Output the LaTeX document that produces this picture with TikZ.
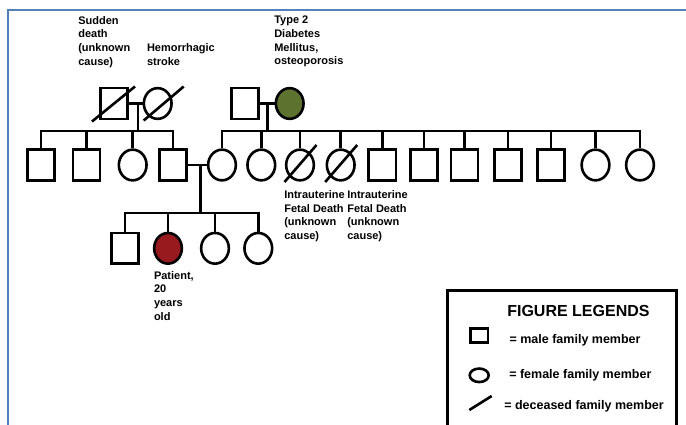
\documentclass[tikz,border=0pt]{standalone}
\usepackage{fontspec}
\setmainfont{Liberation Sans}
\usepackage{tikz}
\usetikzlibrary{calc,shapes.geometric}
\definecolor{dmgreen}{RGB}{94,114,48}
\definecolor{patred}{RGB}{152,26,30}
\definecolor{pageblue}{RGB}{84,128,190}

\begin{document}
\begin{tikzpicture}[x=1pt,y=-1pt,line width=2.6pt,
    male/.style={draw,rectangle,minimum width=27.2pt,minimum height=30.7pt,inner sep=0pt},
    female/.style={draw,ellipse,minimum width=27.7pt,minimum height=30.7pt,inner sep=0pt},
    affected/.style={female,fill=dmgreen},
    patient/.style={female,fill=patred},
    note/.style={anchor=north west,inner sep=0pt,align=left,font=\fontsize{11}{13.6}\selectfont\bfseries},
    legtext/.style={anchor=west,inner sep=0pt,font=\fontsize{12.5}{15}\selectfont\bfseries}]
  \useasboundingbox (0,0) rectangle (686,425);
  \draw[pageblue,line width=1.2pt] (8,425) |- (686,10);
  \coordinate (sibL) at (0,131);
  \coordinate (sibIII) at (0,213);
  % generation I
  \node[male] (gA) at (114,103.5) {};
  \node[female] (gB) at (157.7,103.5) {};
  \node[male] (gC) at (245,103.5) {};
  \node[affected] (gD) at (289.7,103.5) {};
  \draw ([shift={(-22,18)}]gA.center) -- ([shift={(21,-17)}]gA.center);
  \draw ([shift={(-14,17)}]gB.center) -- ([shift={(26,-17)}]gB.center);
  \draw (gA.east) -- (gB.west);
  \draw (gC.east) -- (gD.west);
  \coordinate (mA) at ($(gA.east)!0.68!(gB.west)$);
  \coordinate (mB) at ($(gC.east)!0.5!(gD.west)$);
  \draw (mA) -- (mA |- sibL);
  \draw (mB) -- (mB |- sibL);
  % generation II
  \foreach \n/\xx/\kind in {1/41/male,2/86.5/male,3/132.7/female,4/173/male,5/222/female,6/261.3/female,7/300/female,8/340.7/female,
      9/382.3/male,10/424/male,11/464.5/male,12/508/male,13/551/male,14/595.5/female,15/640/female}
    \node[\kind] (c\n) at (\xx,165) {};
  \draw (c1.north) |- (c4.north |- sibL) -- (c4.north);
  \foreach \n in {2,3}
    \draw (c\n.north) -- (c\n.north |- sibL);
  \draw (c5.north) |- (c15.north |- sibL) -- (c15.north);
  \foreach \n in {6,...,14}
    \draw (c\n.north) -- (c\n.north |- sibL);
  \foreach \n in {7,8}
    \draw ([shift={(-15.5,17)}]c\n.center) -- ([shift={(16.5,-20)}]c\n.center);
  \draw (c4.east) -- (c5.west);
  \coordinate (mC) at ($(c4.east)!0.68!(c5.west)$);
  \draw (mC) -- (mC |- sibIII);
  % generation III
  \foreach \n/\xx/\kind in {1/125/male,2/168/patient,3/215/female,4/258.3/female}
    \node[\kind] (d\n) at (\xx,248.3) {};
  \draw (d1.north) |- (d4.north |- sibIII) -- (d4.north);
  \foreach \n in {2,3}
    \draw (d\n.north) -- (d\n.north |- sibIII);
  % notes
  \node[note] (lSud) at (77,15) {Sudden\\death\\(unknown\\cause)};
  \node[note] (lHem) at (145.7,42.5) {Hemorrhagic\\stroke};
  \node[note] (lDia) at (273,15) {Type 2\\Diabetes\\Mellitus,\\osteoporosis};
  \node[note] (lIuA) at (283,189.5) {Intrauterine\\Fetal Death\\(unknown\\cause)};
  \node[note] (lIuB) at (346,189.5) {Intrauterine\\Fetal Death\\(unknown\\cause)};
  \node[note] (lPat) at (152.7,270) {Patient,\\20\\years\\old};
  % legend
  \draw[line width=2.8pt] (447.3,428) |- (676.7,290.7) -- (676.7,428);
  \node[anchor=west,inner sep=0pt,font=\fontsize{16}{19}\selectfont\bfseries] (legT) at (506,310.7) {FIGURE LEGENDS};
  \node[male,line width=2.6pt,minimum width=17.5pt,minimum height=14pt] (kM) at (479.3,335.7) {};
  \node[female,line width=2.6pt,minimum width=19pt,minimum height=13.5pt] (kF) at (479.2,375.3) {};
  \draw[line width=2.6pt] (469.3,410) -- (491.7,396);
  \node[legtext] (tM) at (508.3,340) {= male family member};
  \node[legtext] (tF) at (508,375) {= female family member};
  \node[legtext] (tD) at (503,406.7) {= deceased family member};
\end{tikzpicture}
\end{document}
